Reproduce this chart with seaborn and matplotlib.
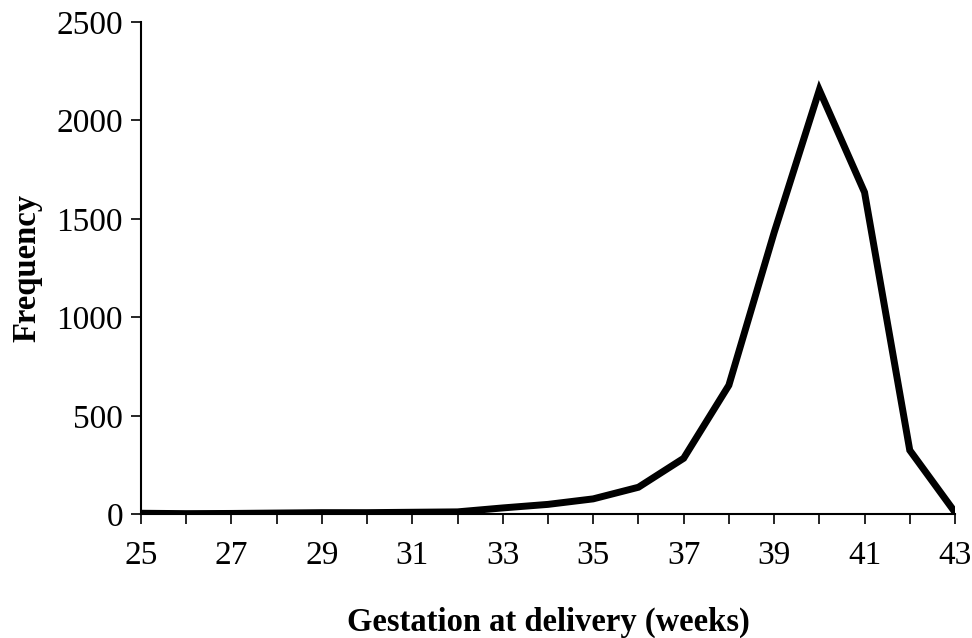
import matplotlib
matplotlib.use("Agg")
import matplotlib.pyplot as plt
import seaborn as sns
import pandas as pd
import numpy as np

weeks = [25, 26, 27, 28, 29, 30, 31, 32, 33, 34, 35, 36, 37, 38, 39, 40, 41, 42, 43]
frequency = [5, 3, 4, 6, 8, 8, 10, 12, 32, 50, 78, 137, 284, 655, 1430, 2155, 1635, 325, 10]
x_tick_labels = [str(w) for w in range(25, 44, 2)]
y_ticks = [0, 500, 1000, 1500, 2000, 2500]

sns.set_style("ticks")
plt.rcParams['font.family'] = ['Liberation Serif', 'DejaVu Serif']
plt.rcParams['text.color'] = 'black'
plt.rcParams['axes.labelcolor'] = 'black'

df = pd.DataFrame({"week": weeks, "freq": frequency})

fig = plt.figure(figsize=(9.72, 6.38), dpi=100)
ax = fig.add_axes([0.145, 0.194, 0.8375, 0.7715])
sns.lineplot(data=df, x="week", y="freq", ax=ax, color="black", linewidth=5,
             solid_joinstyle="miter", solid_capstyle="round")

ax.set_xlim(25, 43)
ax.set_ylim(0, 2500)
ax.set_xticks(range(25, 44, 2))
ax.set_xticklabels(x_tick_labels)
ax.set_xticks(range(25, 44), minor=True)
ax.set_yticks(y_ticks)
ax.tick_params(axis="both", which="major", labelsize=24, length=7, width=1.2, color="black", labelcolor="black")
ax.tick_params(axis="x", which="minor", length=7, width=1.2, color="black")
ax.tick_params(axis="x", pad=12)
ax.tick_params(axis="y", pad=6)

sns.despine(ax=ax)
for s in ["left", "bottom"]:
    ax.spines[s].set_linewidth(1.5)
    ax.spines[s].set_color("black")

ax.set_xlabel("Gestation at delivery (weeks)", fontsize=23.5, fontweight="bold", labelpad=26)
ax.set_ylabel("Frequency", fontsize=23.5, fontweight="bold", labelpad=10)

fig.savefig("out.png", dpi=100)
